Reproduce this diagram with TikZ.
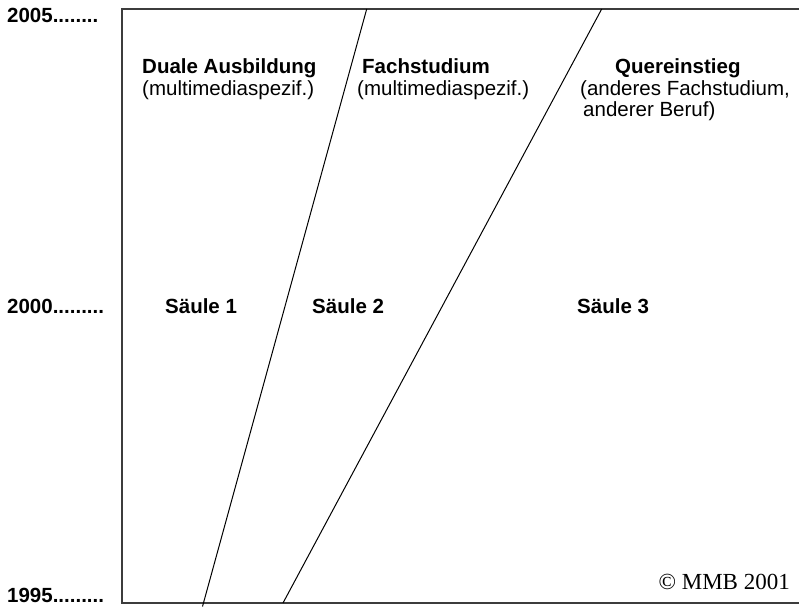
\documentclass[tikz,border=0pt]{standalone}
\usepackage{fontspec}
\setmainfont{Liberation Sans}
\newfontfamily\serifmmb{Liberation Serif}
\usetikzlibrary{positioning}
\definecolor{frameGray}{RGB}{60,60,60}

\begin{document}
\begin{tikzpicture}[x=1pt,y=-1pt,
  head/.style={anchor=base west,inner sep=0pt,font=\bfseries\fontsize{20.5}{24}\selectfont},
  sub/.style={anchor=base west,inner sep=0pt,font=\fontsize{20.5}{24}\selectfont},
  year/.style={anchor=base west,inner sep=0pt,font=\bfseries\fontsize{20.5}{24}\selectfont}]
\useasboundingbox (0,0) rectangle (799,607);
% time axis
\node[year] (y05) at (7,22.7) {2005........};
\node[year] (y00) at (7,313) {2000.........};
\node[year] (y95) at (7,602.5) {1995.........};
% frame and dividers
\draw[frameGray,line width=1.5pt] (799,9) -- (122,9) -- (122,603) -- (799,603);
\coordinate (d1top) at (366.7,9);
\coordinate (d1bot) at (202.5,606.5);
\coordinate (d2top) at (601.7,9);
\coordinate (d2bot) at (283,603);
\draw[line width=1pt] (d1top) -- (d1bot);
\draw[line width=1pt] (d2top) -- (d2bot);
% headings
\node[head] (dual) at (142,74) {Duale Ausbildung};
\node[sub] (dualsub) at (142,95.5) {(multimediaspezif.)};
\node[head] (fach) at (362,74) {Fachstudium};
\node[sub] (fachsub) at (357,95.5) {(multimediaspezif.)};
\node[head] (quer) at (615,74) {Quereinstieg};
\node[sub] (quersub) at (580,95.5) {(anderes Fachstudium,};
\node[sub] (quersubb) at (583,117) {anderer Beruf)};
% pillars
\node[head] (s1) at (165,313) {Säule 1};
\node[head] (s2) at (312,313) {Säule 2};
\node[head] (s3) at (577,313) {Säule 3};
\node[anchor=base east,inner sep=0pt,font=\serifmmb\fontsize{23}{26}\selectfont] (copy) at (790,589) {© MMB 2001};
\end{tikzpicture}
\end{document}
